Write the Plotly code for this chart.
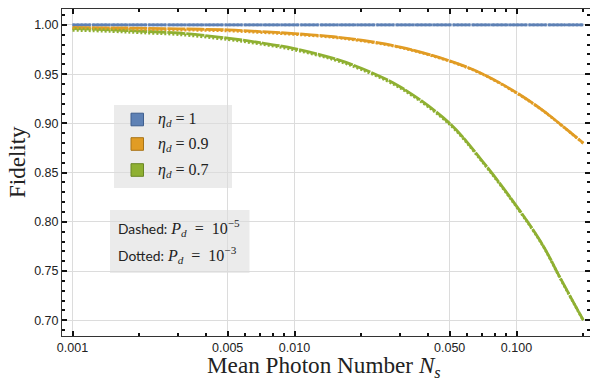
import plotly.graph_objects as go

# Mean photon number N_s (log axis)
photon_number = [0.001, 0.0015, 0.002, 0.003, 0.005, 0.007, 0.01, 0.015,
                 0.02, 0.03, 0.05, 0.07, 0.1, 0.13, 0.16, 0.2]

# Fidelity, detector efficiency eta_d = 1
fid_eta1_dashed = [1.0, 1.0, 1.0, 1.0, 1.0, 1.0, 1.0, 1.0,
                   1.0, 1.0, 1.0, 1.0, 1.0, 1.0, 1.0, 1.0]
fid_eta1_dotted = [1.0, 1.0, 1.0, 1.0, 1.0, 1.0, 1.0, 1.0,
                   1.0, 1.0, 1.0, 1.0, 1.0, 1.0, 1.0, 1.0]

# Fidelity, eta_d = 0.9
fid_eta09_dashed = [0.9975, 0.9971, 0.9967, 0.9960, 0.9950, 0.9933, 0.9912, 0.9880,
                    0.9845, 0.9775, 0.9635, 0.9505, 0.9312, 0.9140, 0.8980, 0.8800]
fid_eta09_dotted = [0.9963, 0.9960, 0.9956, 0.9949, 0.9940, 0.9924, 0.9904, 0.9873,
                    0.9839, 0.9770, 0.9631, 0.9501, 0.9308, 0.9137, 0.8977, 0.8797]

# Fidelity, eta_d = 0.7
fid_eta07_dashed = [0.9963, 0.9950, 0.9937, 0.9918, 0.9866, 0.9820, 0.9760, 0.9660,
                    0.9560, 0.9370, 0.9000, 0.8620, 0.8160, 0.7780, 0.7400, 0.7000]
fid_eta07_dotted = [0.9946, 0.9934, 0.9921, 0.9902, 0.9851, 0.9806, 0.9746, 0.9647,
                    0.9547, 0.9358, 0.8989, 0.8611, 0.8152, 0.7774, 0.7395, 0.6996]

eta_labels = ["1", "0.9", "0.7"]
colors = ["#5E81B5", "#E19C24", "#8FB032"]
edge_colors = ["#3F5F8F", "#A87418", "#6A8624"]

x_tickvals = [0.001, 0.005, 0.01, 0.05, 0.1]
x_ticktext = ["0.001", "0.005", "0.010", "0.050", "0.100"]
x_minorvals = [0.002, 0.003, 0.004, 0.006, 0.007, 0.008, 0.009,
               0.02, 0.03, 0.04, 0.06, 0.07, 0.08, 0.09, 0.2, 0.3, 0.4]
y_tickvals = [0.70, 0.75, 0.80, 0.85, 0.90, 0.95, 1.00]
y_ticktext = ["0.70", "0.75", "0.80", "0.85", "0.90", "0.95", "1.00"]

W, H = 590, 381
ML, MR, MT, MB = 62, 0, 9, 45
PW, PH = W - ML - MR, H - MT - MB


def px(xp):
    return (xp - ML) / PW


def py(yp):
    return (H - MB - yp) / PH


SERIF = "Liberation Serif"
SANS = "Liberation Sans"
NOTE_SANS = "Lato"

fig = go.Figure()

series = [
    (fid_eta1_dashed, fid_eta1_dotted),
    (fid_eta09_dashed, fid_eta09_dotted),
    (fid_eta07_dashed, fid_eta07_dotted),
]
for (dashed, dotted), c in zip(series, colors):
    fig.add_trace(go.Scatter(x=photon_number, y=dashed, mode="lines",
                             line=dict(color=c, width=2.8, dash="18px,1px", shape="spline"),
                             showlegend=False, hoverinfo="skip"))
for (dashed, dotted), c in zip(series, colors):
    fig.add_trace(go.Scatter(x=photon_number, y=dotted, mode="lines",
                             line=dict(color=c, width=2.8, dash="2px,2px", shape="spline"),
                             showlegend=False, hoverinfo="skip"))

shapes = []
annotations = []

# legend panel
shapes.append(dict(type="rect", xref="paper", yref="paper",
                   x0=px(114), x1=px(232), y0=py(188), y1=py(105),
                   fillcolor="#EBEBEB", line=dict(width=0), layer="below"))
row_y = [119.5, 144, 170]
for lab, c, ec, ry in zip(eta_labels, colors, edge_colors, row_y):
    shapes.append(dict(type="rect", xref="paper", yref="paper",
                       x0=px(131), x1=px(143.5), y0=py(ry + 6.3), y1=py(ry - 6.3),
                       fillcolor=c, line=dict(color=ec, width=1), layer="above"))
    annotations.append(dict(xref="paper", yref="paper", x=px(156), y=py(ry),
                            xanchor="left", yanchor="middle", showarrow=False,
                            text=f"<i>η</i><sub><i>d</i></sub> = {lab}",
                            font=dict(family=SERIF, size=16, color="#222")))

# line-style note panel
shapes.append(dict(type="rect", xref="paper", yref="paper",
                   x0=px(110), x1=px(249.5), y0=py(273), y1=py(210),
                   fillcolor="#EBEBEB", line=dict(width=0), layer="below"))
notes = [("Dashed:", "−5", 228), ("Dotted:", "−3", 255)]
for word, exp, ny in notes:
    annotations.append(dict(
        xref="paper", yref="paper", x=px(116), y=py(ny),
        xanchor="left", yanchor="middle", showarrow=False,
        text=(f"<span style='font-family:{NOTE_SANS};font-size:13.8px'>{word}</span> "
              f"<i>P</i><sub><i>d</i></sub>\u2002=\u200210<sup>{exp}</sup>"),
        font=dict(family=SERIF, size=16, color="#222")))

# axis titles
annotations.append(dict(xref="paper", yref="paper", x=px(17.5), y=py(162.5),
                        xanchor="center", yanchor="middle", showarrow=False,
                        textangle=-90, text="Fidelity",
                        font=dict(family=SERIF, size=23, color="#222")))
annotations.append(dict(xref="paper", yref="paper", x=px(324), y=py(366.5),
                        xanchor="center", yanchor="middle", showarrow=False,
                        text="Mean Photon Number <i>N</i><sub><i>s</i></sub>",
                        font=dict(family=SERIF, size=23.2, color="#222")))

tickfont = dict(family=SANS, size=12.5, color="#222")
fig.update_layout(
    width=W, height=H,
    margin=dict(l=ML, r=MR, t=MT, b=MB, pad=0),
    paper_bgcolor="white", plot_bgcolor="white",
    shapes=shapes, annotations=annotations,
    xaxis=dict(type="log", range=[-3.0473, -0.6689],
               tickmode="array", tickvals=x_tickvals, ticktext=x_ticktext,
               ticks="inside", ticklen=5, tickwidth=1.5, tickcolor="#111",
               showline=True, linecolor="#333", linewidth=1, mirror="ticks",
               showgrid=True, gridcolor="#DCDCDC", gridwidth=1,
               zeroline=False, tickfont=tickfont,
               minor=dict(tickmode="array", tickvals=x_minorvals, ticks="inside",
                          ticklen=3, tickwidth=1.5, tickcolor="#111", showgrid=False)),
    yaxis=dict(range=[0.684, 1.0162],
               tickmode="array", tickvals=y_tickvals, ticktext=y_ticktext,
               ticks="inside", ticklen=5, tickwidth=1.5, tickcolor="#111",
               showline=True, linecolor="#333", linewidth=1, mirror="ticks",
               showgrid=True, gridcolor="#DCDCDC", gridwidth=1,
               zeroline=False, tickfont=tickfont,
               minor=dict(dtick=0.01, tick0=0.70, ticks="inside",
                          ticklen=3, tickwidth=1.5, tickcolor="#111", showgrid=False)),
)

fig.write_html("out.html")
